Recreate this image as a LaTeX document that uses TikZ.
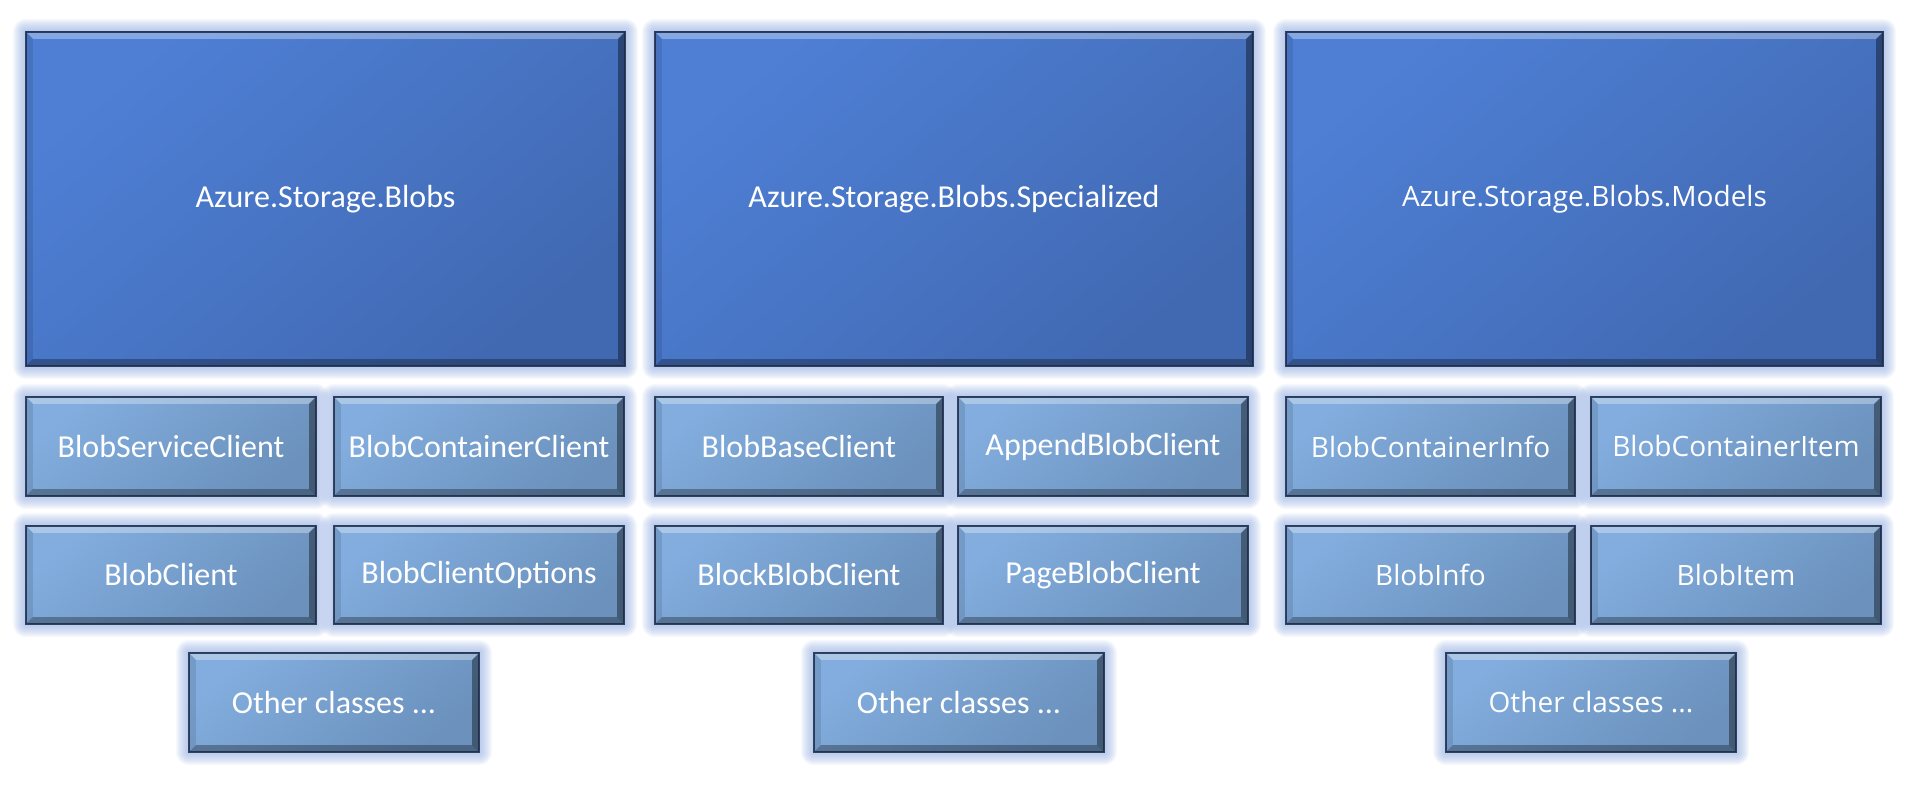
\documentclass[tikz,border=0pt]{standalone}
\usepackage{fontspec}
\newfontfamily\fontA{Carlito}
\newfontfamily\fontB{Open Sans}
\usetikzlibrary{calc}
\pgfdeclarelayer{bg}
\pgfsetlayers{bg,main}
\definecolor{bigL}{HTML}{4E7FD5}
\definecolor{bigD}{HTML}{4169B2}
\definecolor{smL}{HTML}{82ADDE}
\definecolor{smD}{HTML}{6B91BC}
\definecolor{glowc}{HTML}{8FAAE0}
\definecolor{edgec}{HTML}{1C2B48}
\tikzset{
  box/.style={rectangle, inner sep=0pt, text=white},
  bigbox/.style={box, top color=bigL, bottom color=bigD, shading angle=40},
  smallbox/.style={box, top color=smL, bottom color=smD, shading angle=40},
  fnA/.style={font=\fontA\fontsize{32bp}{38bp}\selectfont},
  fnB/.style={font=\fontB\fontsize{28bp}{34bp}\selectfont},
  bevtop/.style={fill=white, fill opacity=0.32},
  bevleft/.style={fill=black, fill opacity=0.10},
  bevright/.style={fill=black, fill opacity=0.38},
  bevbottom/.style={fill=black, fill opacity=0.30},
  boxedge/.style={draw=edgec, line width=1.6bp, draw opacity=0.85},
  glowlayer/.style={fill=glowc, fill opacity=0.07}
}
% name, x1, y1, x2, y2 (pixels, y from top), style, text
\newcommand\mybox[7]{%
  \node[#6, minimum width={(#4-#2)*1bp}, minimum height={(#5-#3)*1bp}]
    (#1) at ({(#2+#4)/2},{794-(#3+#5)/2}) {#7};
  \begin{pgfonlayer}{bg}
    \foreach \g in {1,...,13} {
      \fill[glowlayer, rounded corners={\g*1bp}]
        ($(#1.north west)+(-\g,\g)$) rectangle ($(#1.south east)+(\g,-\g)$);
    }
  \end{pgfonlayer}
  \fill[bevtop] (#1.north west) -- (#1.north east) -- ($(#1.north east)+(-7,-7)$) -- ($(#1.north west)+(7,-7)$) -- cycle;
  \fill[bevbottom] (#1.south west) -- (#1.south east) -- ($(#1.south east)+(-7,7)$) -- ($(#1.south west)+(7,7)$) -- cycle;
  \fill[bevleft] (#1.north west) -- ($(#1.north west)+(7,-7)$) -- ($(#1.south west)+(7,7)$) -- (#1.south west) -- cycle;
  \fill[bevright] (#1.north east) -- ($(#1.north east)+(-7,-7)$) -- ($(#1.south east)+(-7,7)$) -- (#1.south east) -- cycle;
  \draw[boxedge] (#1.north west) rectangle (#1.south east);
}
\begin{document}
\begin{tikzpicture}[x=1bp,y=1bp]
\useasboundingbox (0,0) rectangle (1914,794);
% top packages
\mybox{pkA}{26}{32}{625}{366}{bigbox,fnA}{Azure.Storage.Blobs}
\mybox{pkB}{655}{32}{1253}{366}{bigbox,fnA}{Azure.Storage.Blobs.Specialized}
\mybox{pkC}{1286}{32}{1883}{366}{bigbox,fnB}{Azure.Storage.Blobs.Models}
% column 1
\mybox{a1}{26}{397}{316}{496}{smallbox,fnA}{BlobServiceClient}
\mybox{a2}{334}{397}{624}{496}{smallbox,fnA}{BlobContainerClient}
\mybox{a3}{26}{526}{316}{624}{smallbox,fnA}{BlobClient}
\mybox{a4}{334}{526}{624}{624}{smallbox,fnA}{BlobClientOptions}
\mybox{a5}{189}{653}{479}{752}{smallbox,fnA}{Other classes ...}
% column 2
\mybox{b1}{655}{397}{943}{496}{smallbox,fnA}{BlobBaseClient}
\mybox{b2}{958}{397}{1248}{496}{smallbox,fnA}{AppendBlobClient}
\mybox{b3}{655}{526}{943}{624}{smallbox,fnA}{BlockBlobClient}
\mybox{b4}{958}{526}{1248}{624}{smallbox,fnA}{PageBlobClient}
\mybox{b5}{814}{653}{1104}{752}{smallbox,fnA}{Other classes ...}
% column 3
\mybox{c1}{1286}{397}{1575}{496}{smallbox,fnB}{BlobContainerInfo}
\mybox{c2}{1591}{397}{1881}{496}{smallbox,fnB}{BlobContainerItem}
\mybox{c3}{1286}{526}{1575}{624}{smallbox,fnB}{BlobInfo}
\mybox{c4}{1591}{526}{1881}{624}{smallbox,fnB}{BlobItem}
\mybox{c5}{1446}{653}{1736}{752}{smallbox,fnB}{Other classes ...}
\end{tikzpicture}
\end{document}
